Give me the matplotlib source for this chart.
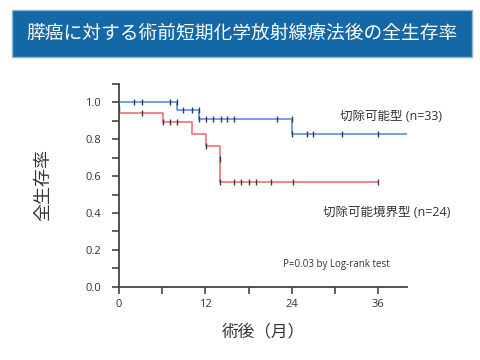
import matplotlib
matplotlib.use("Agg")
import matplotlib.pyplot as plt
from matplotlib.patches import Rectangle
from matplotlib.ticker import MultipleLocator

plt.rcParams['font.family'] = ['Open Sans', 'Noto Sans CJK JP', 'DejaVu Sans']

############################ DATA ############################

title = "膵癌に対する術前短期化学放射線療法後の全生存率"

# 切除可能型 (n=33)
res_t = [0, 8.0, 11.1, 24.0, 40.0]
res_s = [1.0, 0.955, 0.91, 0.825, 0.825]
res_cens_t = [2.1, 3.15, 7.05, 8.0, 8.95, 10.1, 11.1, 11.1, 12.1, 13.1, 14.1, 14.95, 15.9, 22.0, 24.0, 24.0, 26.1, 27.0, 31.0, 36.0]
res_cens_s = [1.0, 1.0, 1.0, 1.0, 0.955, 0.955, 0.955, 0.91, 0.91, 0.91, 0.91, 0.91, 0.91, 0.91, 0.91, 0.825, 0.825, 0.825, 0.825, 0.825]

# 切除可能境界型 (n=24)
br_t = [0, 0.05, 6.05, 10.1, 12.05, 14.0, 14.0, 36.0]
br_s = [1.0, 0.94, 0.894, 0.825, 0.764, 0.69, 0.57, 0.57]
br_cens_t = [0.05, 3.15, 6.05, 7.05, 8.0, 12.05, 14.0, 14.0, 15.9, 17.0, 18.0, 19.05, 21.05, 24.1, 36.0]
br_cens_s = [0.96, 0.94, 0.894, 0.894, 0.894, 0.764, 0.69, 0.57, 0.57, 0.57, 0.57, 0.57, 0.57, 0.57, 0.57]

############################ PLOT ############################

fig = plt.figure(figsize=(4.8, 3.6), dpi=100)

# title banner
fig.patches.append(Rectangle((0.027, 0.838), 0.958, 0.13, transform=fig.transFigure,
                             facecolor="#a9a9a9", edgecolor="none", alpha=0.5))
fig.patches.append(Rectangle((0.025, 0.842), 0.958, 0.13, transform=fig.transFigure,
                             facecolor="#1568a6", edgecolor="#8fb3d3", linewidth=1))
fig.text(0.504, 0.907, title, color="white", fontsize=13.5, ha="center", va="center",
         family=["Noto Sans CJK JP", "DejaVu Sans"])

ax = fig.add_axes([0.248, 0.2028, 0.6, 0.5652])

ax.step(res_t, res_s, where="post", color="#5b8def", linewidth=1.2)
ax.step(br_t, br_s, where="post", color="#f0707a", linewidth=1.2)
ax.plot(res_cens_t, res_cens_s, linestyle="none", marker="|", markersize=5, color="#3a3a3a", mew=1)
ax.plot(br_cens_t, br_cens_s, linestyle="none", marker="|", markersize=5, color="#3a3a3a", mew=1)

ax.set_xlim(0, 40)
ax.set_ylim(0, 1.1)
ax.set_xticks([0, 12, 24, 36])
ax.set_yticks([0.0, 0.2, 0.4, 0.6, 0.8, 1.0])
ax.set_yticklabels(["0.0", "0.2", "0.4", "0.6", "0.8", "1.0"])
ax.xaxis.set_minor_locator(MultipleLocator(6))
ax.yaxis.set_minor_locator(MultipleLocator(0.1))

for s in ["top", "right"]:
    ax.spines[s].set_visible(False)
for s in ["left", "bottom"]:
    ax.spines[s].set_color("#444444")
    ax.spines[s].set_linewidth(1.3)

ax.tick_params(which="both", direction="out", length=5, width=1.2, color="#444444",
               labelcolor="#333333", labelsize=8)
ax.tick_params(axis="y", which="major", pad=8)
ax.tick_params(axis="x", which="major", pad=4)

ax.set_xlabel("術後（月）", fontsize=12, color="#333333", labelpad=9,
              family=["Noto Sans CJK JP", "DejaVu Sans"])
ax.set_ylabel("全生存率", fontsize=13, color="#333333", labelpad=24,
              family=["Noto Sans CJK JP", "DejaVu Sans"])

ax.text(30.7, 0.92, "切除可能型 (n=33)", fontsize=9, color="#333333", va="center")
ax.text(28.3, 0.405, "切除可能境界型 (n=24)", fontsize=9, color="#333333", va="center")
ax.text(22.75, 0.119, "P=0.03 by Log-rank test", fontsize=7, color="#333333", va="center")

fig.savefig("out.png", dpi=100)
